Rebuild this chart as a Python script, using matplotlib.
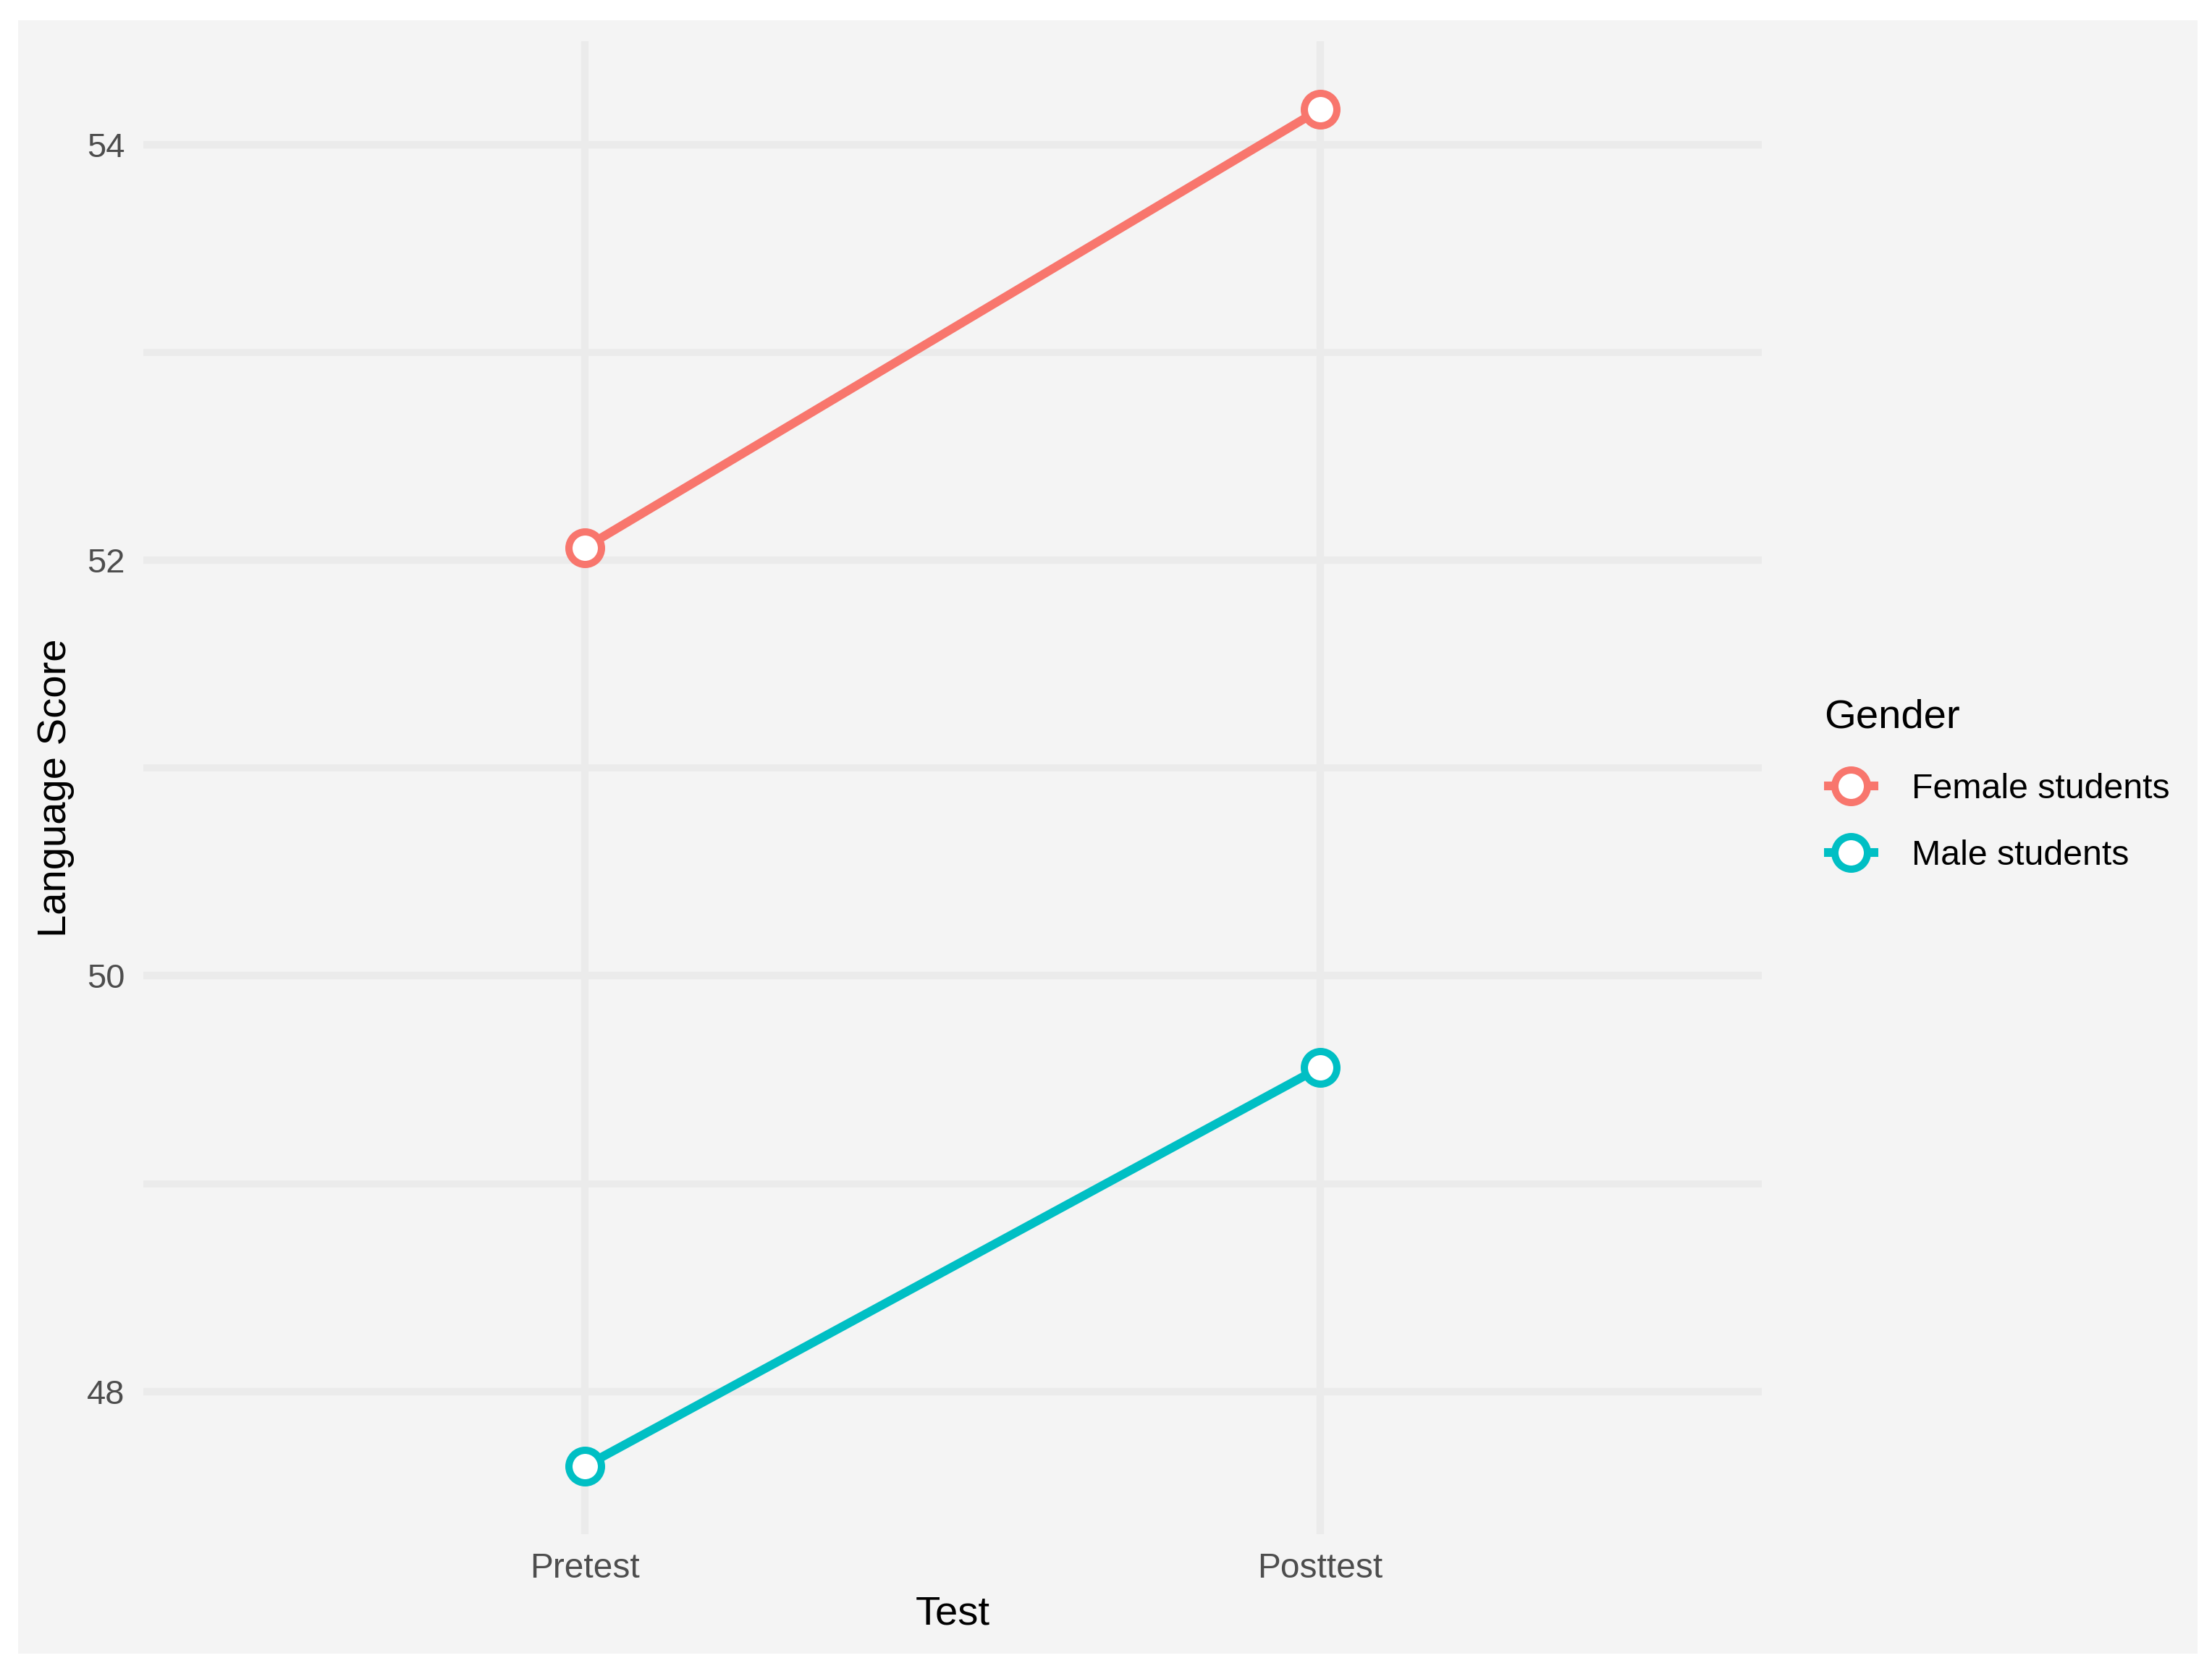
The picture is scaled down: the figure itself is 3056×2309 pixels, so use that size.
import numpy as np
import matplotlib
matplotlib.use("Agg")
import matplotlib.pyplot as plt
from matplotlib.patches import Rectangle
from matplotlib.ticker import MultipleLocator

BG = "#F4F4F4"
GRID = "#EBEBEB"
TICK_GREY = "#4D4D4D"
RED = "#F8766D"
TEAL = "#00BFC4"

# data
tests = ["Pretest", "Posttest"]
groups = ["Female students", "Male students"]
female_scores = [52.06, 54.17]
male_scores = [47.64, 49.56]
group_colors = [RED, TEAL]

plt.rcParams["font.family"] = ["Liberation Sans", "DejaVu Sans"]

W, H, DPI = 3056, 2309, 300
fig = plt.figure(figsize=(W / DPI, H / DPI), dpi=DPI)
fig.patch.set_facecolor("white")

# grey plot background with a thin white margin
fig.patches.append(Rectangle((25 / W, 24 / H), (3036 - 25) / W, (2285 - 28) / H,
                             transform=fig.transFigure, facecolor=BG,
                             edgecolor="none", zorder=-10))

ax = fig.add_axes([198 / W, 1 - 2120 / H, (2434 - 198) / W, (2120 - 57) / H])
ax.set_facecolor("none")
for s in ax.spines.values():
    s.set_visible(False)

x = np.arange(1, len(tests) + 1)
for name, scores, col in zip(groups, [female_scores, male_scores], group_colors):
    ax.plot(x, scores, color=col, lw=2.9, marker="o", ms=10.8,
            mfc="white", mec=col, mew=2.4, label=name, zorder=3,
            solid_capstyle="butt")

# ggplot-ish expansion
allv = female_scores + male_scores
lo, hi = min(allv), max(allv)
pad = (hi - lo) * 0.05
ax.set_ylim(lo - pad, hi + pad)
ax.set_xlim(0.4, len(tests) + 0.6)

ax.set_xticks(x)
ax.set_xticklabels(tests)
ax.yaxis.set_major_locator(MultipleLocator(2))
ax.yaxis.set_minor_locator(MultipleLocator(1))
ax.grid(True, which="major", color=GRID, lw=2.5, zorder=0)
ax.grid(True, which="minor", axis="y", color=GRID, lw=2.3, zorder=0)
ax.set_axisbelow(True)
ax.tick_params(which="both", length=0)
ax.tick_params(axis="y", labelsize=11.3, labelcolor=TICK_GREY, pad=6.2)
ax.tick_params(axis="x", labelsize=11.5, labelcolor=TICK_GREY, pad=6.0)

ax.set_xlabel("Test", fontsize=13.5, labelpad=3.5)
ax.set_ylabel("Language Score", fontsize=13.5, labelpad=4)

leg = ax.legend(title="Gender", loc="upper left",
                bbox_to_anchor=(2520 / W, 1 - 966 / H),
                bbox_transform=fig.transFigure, frameon=False,
                fontsize=11.6, title_fontsize=13.5, handlelength=1.55,
                handletextpad=0.95, labelspacing=0.98, borderaxespad=0,
                borderpad=0, alignment="left")
leg._legend_box.sep = 12

fig.savefig("out.png", dpi=DPI, facecolor="white")
